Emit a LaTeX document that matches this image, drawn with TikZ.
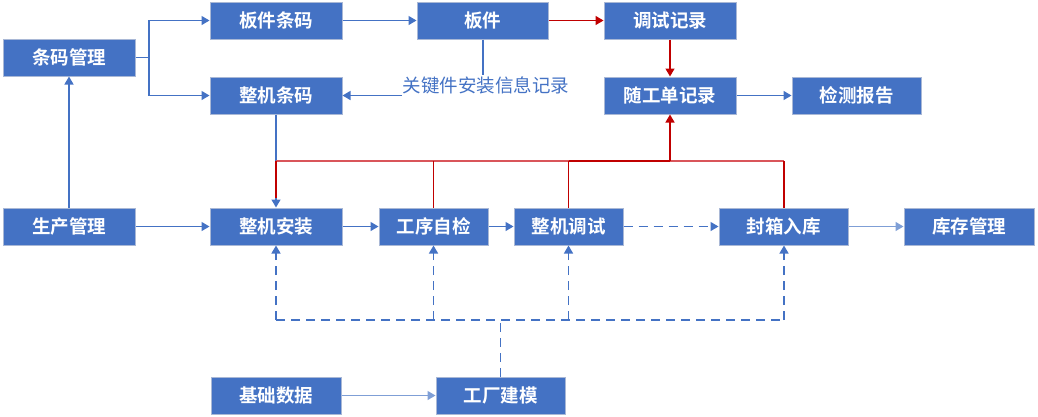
\documentclass[tikz,border=0pt]{standalone}
\usepackage{fontspec}
\setmainfont{Noto Sans CJK SC}[BoldFont={* Bold}]
\usetikzlibrary{arrows.meta,calc}
\definecolor{boxblue}{HTML}{4472C4}
\definecolor{boxedge}{HTML}{A9B8D6}
\definecolor{lnblue}{HTML}{4472C4}
\definecolor{lnlight}{HTML}{7F9FD6}
\definecolor{lnred}{HTML}{C00000}
\definecolor{lnpink}{HTML}{D9555A}
\begin{document}
\begin{tikzpicture}[x=1pt,y=-1pt,
  box/.style={draw=boxedge, fill=boxblue, line width=1pt, inner sep=0pt,
    minimum height=37pt, text=white, font=\bfseries\fontsize{18.5}{18.5}\selectfont},
  conn/.style={draw=lnblue, line width=1.4pt},
  arr/.style={conn, -{Triangle[length=8pt,width=9pt]}},
  redarr/.style={draw=lnred, line width=1.4pt, -{Triangle[length=8pt,width=9pt]}},
  redln/.style={draw=lnpink, line width=1.4pt},
  dsh/.style={draw=lnblue, line width=1.4pt, dash pattern=on 9pt off 6pt},
  dsharr/.style={dsh, -{Triangle[length=8pt,width=9pt]}}]
\useasboundingbox (0,0) rectangle (1038,416);
% boxes
\node[box, minimum width=132pt] (tm) at (69,57.5) {条码管理};
\node[box, minimum width=132pt] (bjtm) at (276,20.5) {板件条码};
\node[box, minimum width=131pt] (bj) at (482.5,20.5) {板件};
\node[box, minimum width=132pt] (tsjl) at (670,20.5) {调试记录};
\node[box, minimum width=132pt] (zjtm) at (276,95.5) {整机条码};
\node[box, minimum width=132pt] (sgd) at (670,95.5) {随工单记录};
\node[box, minimum width=129pt] (jcbg) at (856.5,95.5) {检测报告};
\node[box, minimum width=132pt] (scgl) at (69,226.5) {生产管理};
\node[box, minimum width=132pt] (zjaz) at (276,226.5) {整机安装};
\node[box, minimum width=109pt] (gxzj) at (433.5,226.5) {工序自检};
\node[box, minimum width=109pt] (zjts) at (568.5,226.5) {整机调试};
\node[box, minimum width=129pt] (fxrk) at (783.5,226.5) {封箱入库};
\node[box, minimum width=130pt] (kcgl) at (969,226.5) {库存管理};
\node[box, minimum width=130pt] (jcsj) at (276,395.5) {基础数据};
\node[box, minimum width=129pt] (gcjm) at (500.5,395.5) {工厂建模};
% label
\node[text=lnblue, font=\fontsize{18.5}{18.5}\selectfont, inner sep=0pt] (lbl) at (486,85.5) {关键件安装信息记录};
\coordinate (lblend) at (402,95.5);
\coordinate (bjdown) at (483,75);
% coordinates
\coordinate (split) at (149,57.5);
\coordinate (rl) at (276,161);
\coordinate (rr) at (784,161);
\coordinate (dl) at (276,320);
\coordinate (dr) at (784,320);
\coordinate (dj) at (500.5,320);
% blue connectors
\draw[conn] (tm.east) -- (split);
\draw[arr] (split) |- (bjtm.west);
\draw[arr] (split) |- (zjtm.west);
\draw[arr] (bjtm.east) -- (bj.west);
\draw[conn] (bj.south -| bjdown) -- (bjdown);
\draw[arr] (lblend) -- (zjtm.east);
\draw[arr] (sgd.east) -- (jcbg.west);
\draw[arr] (scgl.north) -- (tm.south);
\draw[arr] (scgl.east) -- (zjaz.west);
\draw[arr] (zjaz.east) -- (gxzj.west);
\draw[arr] (gxzj.east) -- (zjts.west);
\draw[dsharr] (zjts.east) -- (fxrk.west);
\draw[arr, draw=lnlight] (fxrk.east) -- (kcgl.west);
\draw[arr, draw=lnlight] (jcsj.east) -- (gcjm.west);
\draw[arr] (zjtm.south) -- (zjaz.north);
% red connectors
\draw[redarr] (bj.east) -- (tsjl.west);
\draw[redarr] (tsjl.south) -- (sgd.north);
\draw[redln] (rl) -- (rr);
\draw[draw=lnred, line width=1.4pt] (rl) -- ($(zjaz.north)+(0,-10)$);
\draw[redln, draw=lnred] (gxzj.north) -- (gxzj.north |- rl);
\draw[redln, draw=lnred] (zjts.north) -- (zjts.north |- rl);
\draw[redln, draw=lnred] (fxrk.north -| rr) -- (rr);
\draw[draw=lnred, line width=1.4pt] (568.5,161) -- (670,161);
\draw[redarr] (sgd.south |- rl) -- (sgd.south);
% dashed
\draw[dsh] (gcjm.north) -- (dj);
\draw[dsh] (dl) -- (dr);
\draw[dsharr] (dl) -- (zjaz.south);
\draw[dsharr] (gxzj.south |- dl) -- (gxzj.south);
\draw[dsharr] (zjts.south |- dl) -- (zjts.south);
\draw[dsharr] (dr) -- (fxrk.south -| dr);
\end{tikzpicture}
\end{document}
